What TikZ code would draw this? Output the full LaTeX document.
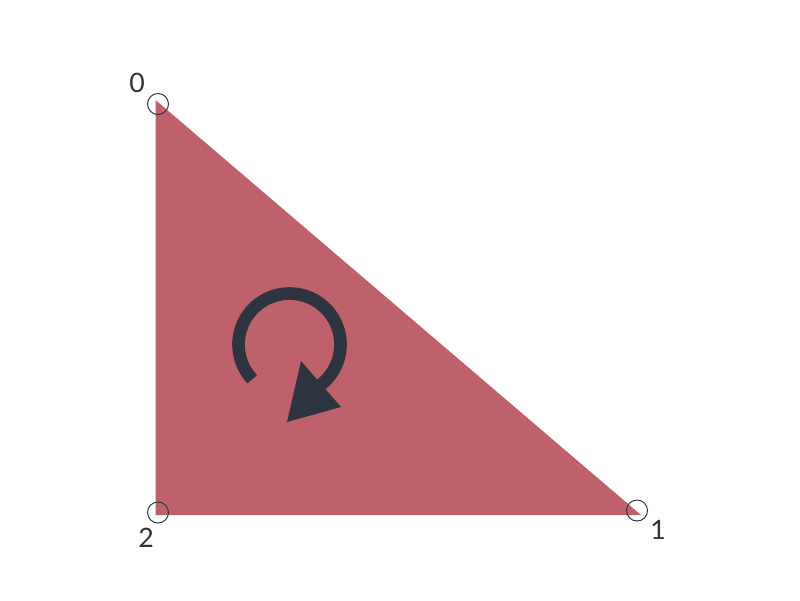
\documentclass[tikz,border=0pt]{standalone}
\usepackage{fontspec}
\setmainfont{Lato}
\definecolor{nordred}{HTML}{BF616A}
\definecolor{nordink}{HTML}{2E3440}
\tikzset{
  vmark/.style={circle, draw=nordink, line width=0.7pt, minimum size=21*0.025cm, inner sep=0pt},
  vlabel/.style={text=nordink, font=\fontsize{19}{22}\selectfont, inner sep=0pt}
}
\begin{document}
\begin{tikzpicture}[x=0.025cm, y=-0.025cm]
  \useasboundingbox (0,0) rectangle (800,600);
  % face
  \fill[nordred] (155.5,100) -- (641,515) -- (155.5,515) -- cycle;
  % orientation (y points down here)
  \draw[nordink, line width=9pt] (289.5,344.5) ++(137:51) arc[start angle=137, end angle=418, radius=51];
  \fill[nordink] (301,361) -- (341,407) -- (287,422) -- cycle;
  % vertices
  \node[vmark] (v0) at (158,104) {};
  \node[vmark] (v1) at (637,510.5) {};
  \node[vmark] (v2) at (158,512.5) {};
  \node[vlabel] (l0) at (137,83) {0};
  \node[vlabel] (l1) at (658,530) {1};
  \node[vlabel] (l2) at (146,538) {2};
\end{tikzpicture}
\end{document}
